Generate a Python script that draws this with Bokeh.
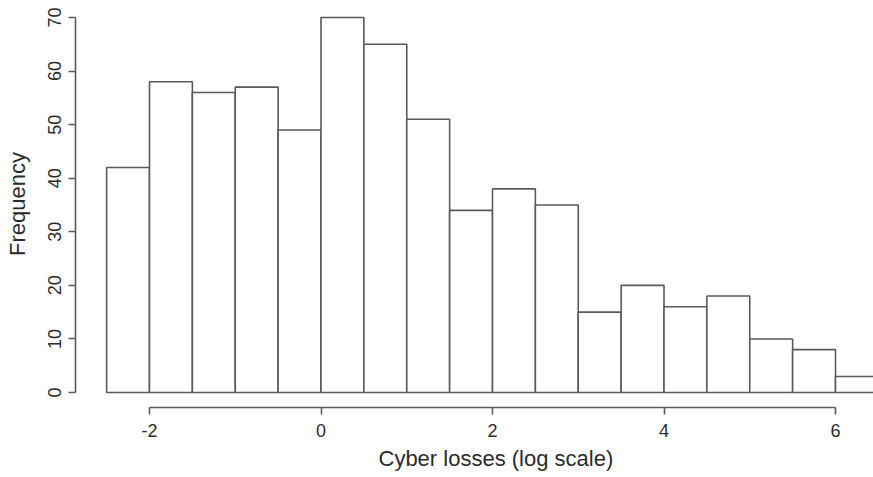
from bokeh.plotting import figure
from bokeh.models import FixedTicker, Title, CustomJSTickFormatter
from bokeh.embed import file_html
from bokeh.resources import INLINE

# Histogram of cyber losses on a log scale, bins of width 0.5
bin_left = [-2.5, -2.0, -1.5, -1.0, -0.5, 0.0, 0.5, 1.0, 1.5,
            2.0, 2.5, 3.0, 3.5, 4.0, 4.5, 5.0, 5.5, 6.0]
bin_right = [-2.0, -1.5, -1.0, -0.5, 0.0, 0.5, 1.0, 1.5, 2.0,
             2.5, 3.0, 3.5, 4.0, 4.5, 5.0, 5.5, 6.0, 6.5]
frequency = [42, 58, 56, 57, 49, 70, 65, 51, 34,
             38, 35, 15, 20, 16, 18, 10, 8, 3]

x_ticks = [-2, 0, 2, 4, 6]
y_ticks = [0, 10, 20, 30, 40, 50, 60, 70]

x_title = "Cyber losses (log scale)"
y_title = "Frequency"

FONT = "Liberation Sans"
LINE = "#5a5a5a"
TEXT = "#2b2b2b"

p = figure(width=873, height=477, output_backend="svg", toolbar_location=None,
           x_range=(-2.863, 6.443), y_range=(-2.8, 73.17),
           min_border_left=75, min_border_right=0,
           min_border_top=0, min_border_bottom=70)
p.outline_line_color = None
p.grid.visible = False
p.background_fill_color = "white"
p.border_fill_color = "white"

p.quad(left=bin_left, right=bin_right, top=frequency, bottom=0,
       fill_color="white", line_color=LINE, line_width=1.6)

# plain hyphen for negative tick labels
plain = CustomJSTickFormatter(code="return String(tick);")

for ax in (p.xaxis[0], p.yaxis[0]):
    ax.axis_line_color = LINE
    ax.axis_line_width = 1.6
    ax.major_tick_line_color = LINE
    ax.major_tick_line_width = 1.6
    ax.major_tick_in = 0
    ax.major_tick_out = 7
    ax.minor_tick_line_color = None
    ax.major_label_text_font = FONT
    ax.major_label_text_font_size = "18px"
    ax.major_label_text_color = TEXT
    ax.formatter = plain

p.xaxis.ticker = FixedTicker(ticks=x_ticks)
p.xaxis.bounds = (min(x_ticks), max(x_ticks))
p.xaxis.major_label_standoff = 9

p.yaxis.ticker = FixedTicker(ticks=y_ticks)
p.yaxis.bounds = (min(y_ticks), max(y_ticks))
p.yaxis.major_label_orientation = "vertical"
p.yaxis.major_label_standoff = 7
p.yaxis.axis_label = y_title
p.yaxis.axis_label_text_font = FONT
p.yaxis.axis_label_text_font_size = "22px"
p.yaxis.axis_label_text_font_style = "normal"
p.yaxis.axis_label_text_color = TEXT
p.yaxis.axis_label_standoff = 16

p.add_layout(Title(text=x_title, align="left", offset=303, standoff=9,
                   text_font=FONT, text_font_size="22px",
                   text_font_style="normal", text_color=TEXT), "below")

open("out.html", "w").write(file_html(p, INLINE))
